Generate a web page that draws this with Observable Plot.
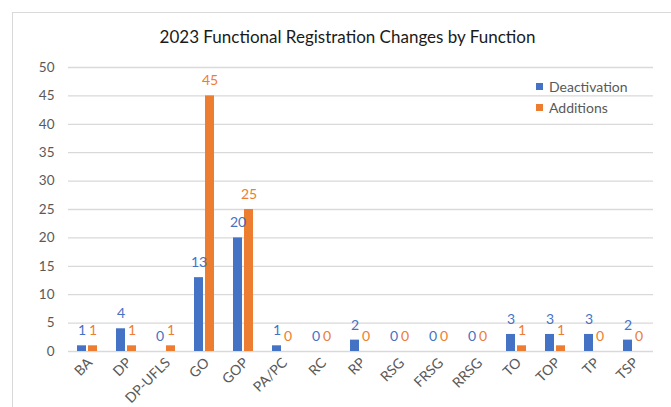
<!DOCTYPE html>
<html>
<head>
<meta charset="utf-8">
<script src="https://cdn.jsdelivr.net/npm/d3@7"></script>
<script src="https://cdn.jsdelivr.net/npm/@observablehq/plot@0.6"></script>
<style>
  html, body { margin: 0; padding: 0; background: #fff; overflow: hidden; }
  #wrap { position: relative; width: 671px; height: 407px; overflow: hidden; font-family: Lato, "Open Sans", sans-serif; }
  #frame { position: absolute; left: 12px; top: 12px; width: 720px; height: 460px; border: 1px solid #d9d9d9; box-sizing: border-box; }
  #title { position: absolute; left: 0; width: 695px; top: 26px; text-align: center; font-size: 17px; color: #1a1a1a; }
  #chart { position: absolute; left: 0; top: 0; }
  .legend { position: absolute; left: 536px; font-size: 14px; color: #595959; display: flex; align-items: center; }
  .legend span.sw { display: inline-block; width: 7px; height: 7px; margin-right: 6px; }
</style>
</head>
<body>
<div id="wrap">
  <div id="frame"></div>
  <div id="title">2023 Functional Registration Changes by Function</div>
  <div id="chart"></div>
  <div class="legend" style="top:78px"><span class="sw" style="background:#4472C4"></span>Deactivation</div>
  <div class="legend" style="top:99px"><span class="sw" style="background:#ED7D31"></span>Additions</div>
</div>
<script>
const categories = ["BA","DP","DP-UFLS","GO","GOP","PA/PC","RC","RP","RSG","FRSG","RRSG","TO","TOP","TP","TSP"];
const seriesNames = ["Deactivation","Additions"];
const deactivation = [1,4,0,13,20,1,0,2,0,0,0,3,3,3,2];
const additions = [1,1,1,45,25,0,0,0,0,0,0,1,1,0,0];
const yTicks = [0,5,10,15,20,25,30,35,40,45,50];
const colors = ["#4472C4","#ED7D31"];

const data = [];
categories.forEach((c, i) => {
  data.push({cat: c, series: "Deactivation", value: deactivation[i]});
  data.push({cat: c, series: "Additions", value: additions[i]});
});

const chart = Plot.plot({
  width: 671,
  height: 407,
  marginLeft: 68,
  marginRight: 18,
  marginTop: 67,
  marginBottom: 56,
  style: {fontFamily: "Lato, 'Open Sans', sans-serif", background: "transparent"},
  fx: {domain: categories, padding: 0, label: null, axis: null},
  x: {domain: seriesNames, paddingInner: 0.14, paddingOuter: 0.84, axis: null},
  y: {domain: [0, 50], axis: null},
  color: {domain: seriesNames, range: colors},
  marks: [
    Plot.ruleY(yTicks, {stroke: "#d9d9d9", strokeWidth: 1.3}),
    Plot.barY(data, {fx: "cat", x: "series", y: "value", fill: "series"}),
    Plot.text(data, {fx: "cat", x: "series", y: "value", text: d => String(d.value), fill: "series", dy: -15, fontSize: 14}),
    Plot.axisY({ticks: yTicks, tickSize: 0, tickPadding: 14, fontSize: 13.5, fill: "#595959", label: null}),
    Plot.axisFx({domain: categories, anchor: "bottom", tickRotate: -45, tickSize: 0, tickPadding: 9, dx: 2, fontSize: 14, fill: "#595959", label: null})
  ]
});
document.getElementById("chart").appendChild(chart);
</script>
</body>
</html>
